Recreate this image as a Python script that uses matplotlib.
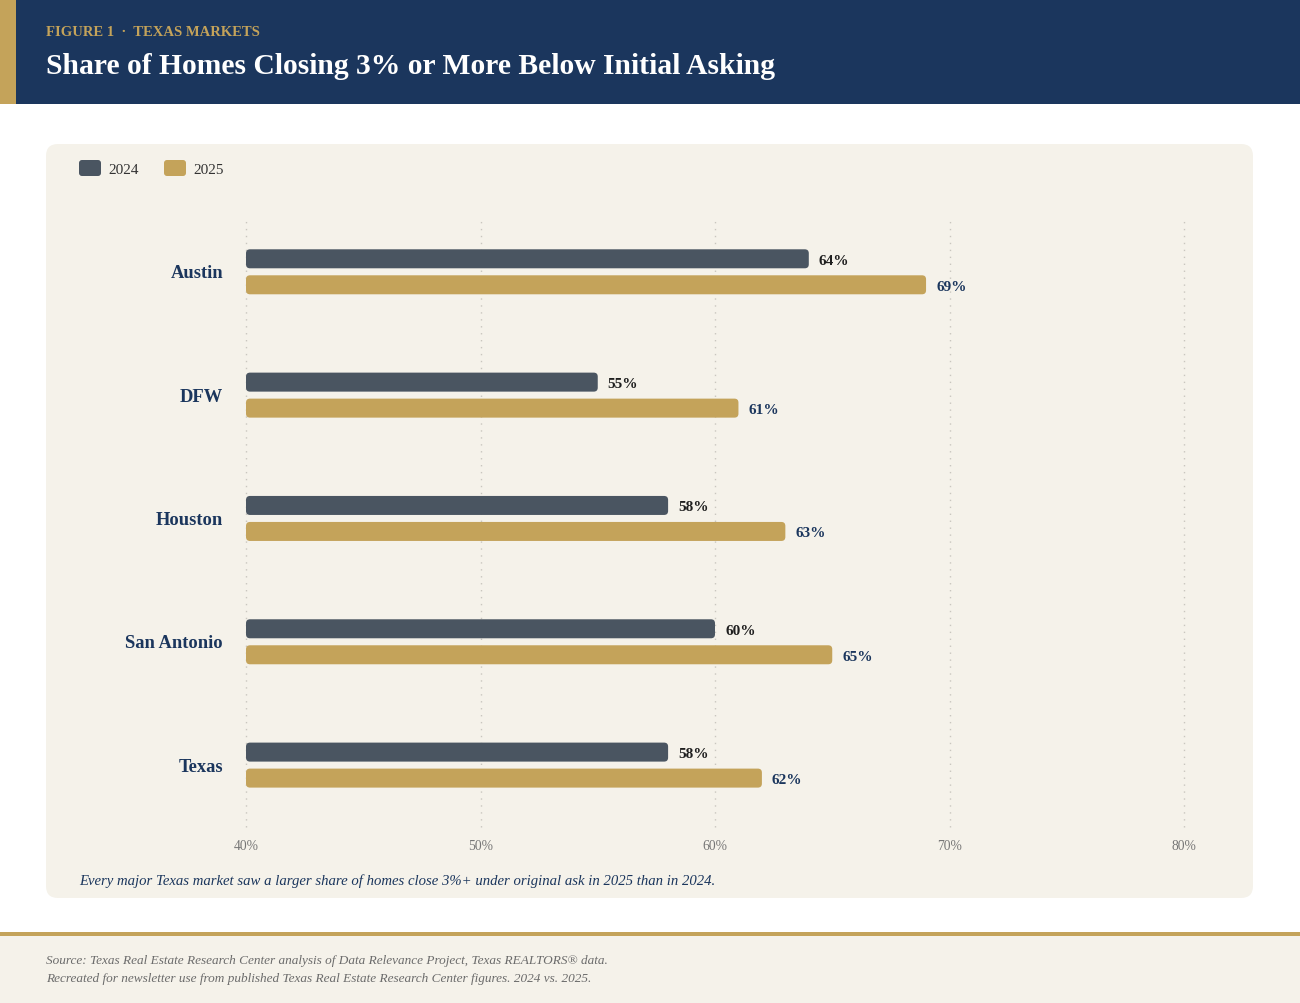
import matplotlib
matplotlib.use("Agg")
import matplotlib.pyplot as plt
from matplotlib.patches import Rectangle, FancyBboxPatch

plt.rcParams['font.family'] = ['Liberation Serif', 'DejaVu Serif']

# ---- data ----
markets = ["Austin", "DFW", "Houston", "San Antonio", "Texas"]
vals_2024 = [64, 55, 58, 60, 58]
vals_2025 = [69, 61, 63, 65, 62]
series_names = ["2024", "2025"]
x_ticks = [40, 50, 60, 70, 80]
tick_labels = ["40%", "50%", "60%", "70%", "80%"]

NAVY = "#1b365d"
GOLD = "#c4a35a"
SLATE = "#4a5561"
CARD = "#f5f2ea"

W, H = 1300, 1004
fig = plt.figure(figsize=(W / 100, H / 100), dpi=100)
fig.patch.set_facecolor("white")

# background axes in pixel coordinates
bg = fig.add_axes([0, 0, 1, 1])
bg.set_xlim(0, W)
bg.set_ylim(H, 0)
bg.axis("off")

# header band
bg.add_patch(Rectangle((0, 0), W, 105, facecolor=NAVY, edgecolor="none"))
bg.add_patch(Rectangle((0, 0), 16, 105, facecolor=GOLD, edgecolor="none"))
bg.text(46, 32, "FIGURE 1  ·  TEXAS MARKETS", color=GOLD, fontsize=10.5,
        fontweight="bold", va="center", ha="left")
bg.text(46, 66, "Share of Homes Closing 3% or More Below Initial Asking", color="white",
        fontsize=21.3, fontweight="bold", va="center", ha="left")

# card
bg.add_patch(FancyBboxPatch((46, 145), 1207, 754, boxstyle="round,pad=0,rounding_size=12",
                            facecolor=CARD, edgecolor="none"))

# legend
leg_items = [(79, SLATE, series_names[0]), (164, GOLD, series_names[1])]
for x0, c, lab in leg_items:
    bg.add_patch(FancyBboxPatch((x0, 161), 22, 16, boxstyle="round,pad=0,rounding_size=3",
                                facecolor=c, edgecolor="none"))
    bg.text(x0 + 29, 170, lab, fontsize=11, color="#333333", va="center", ha="left")

# caption
bg.text(79, 881, "Every major Texas market saw a larger share of homes close 3%+ under original ask in 2025 than in 2024.",
        fontsize=10.6, style="italic", color=NAVY, va="center", ha="left")

# footer
bg.add_patch(Rectangle((0, 933), W, 4, facecolor=GOLD, edgecolor="none"))
bg.add_patch(Rectangle((0, 937), W, H - 937, facecolor=CARD, edgecolor="none"))
bg.text(46, 961, "Source: Texas Real Estate Research Center analysis of Data Relevance Project, Texas REALTORS® data.",
        fontsize=9.5, style="italic", color="#6b6b6b", va="center", ha="left")
bg.text(46, 979, "Recreated for newsletter use from published Texas Real Estate Research Center figures. 2024 vs. 2025.",
        fontsize=9.5, style="italic", color="#6b6b6b", va="center", ha="left")

# chart axes
ax_l, ax_r, ax_t, ax_b = 246, 1184, 220, 828
ax = fig.add_axes([ax_l / W, 1 - ax_b / H, (ax_r - ax_l) / W, (ax_b - ax_t) / H])
ax.set_facecolor("none")
xmin, xmax = 40, 80
ax.set_xlim(xmin, xmax)
n = len(markets)
ax.set_ylim(n - 1 + 0.51, -0.42)

px_per_x = (ax_r - ax_l) / (xmax - xmin)
px_per_y = (ax_b - ax_t) / (n - 1 + 0.51 + 0.42)
bar_h = 19 / px_per_y
off = 13 / px_per_y
rad_x = 4 / px_per_x
aspect = px_per_x / px_per_y

for xt in x_ticks:
    ax.axvline(xt, color="#c9c6bf", linestyle=(0, (1, 4)), linewidth=1, zorder=0, clip_on=False)

for i, m in enumerate(markets):
    for v, dy, c, tc in [(vals_2024[i], -off, SLATE, "#1f1f1f"), (vals_2025[i], off, GOLD, NAVY)]:
        p = FancyBboxPatch((xmin, i + dy + 1 / px_per_y - bar_h / 2), v - xmin, bar_h,
                           boxstyle=f"round,pad=0,rounding_size={rad_x}",
                           mutation_aspect=aspect, facecolor=c, edgecolor="none", zorder=2)
        ax.add_patch(p)
        ax.text(v + 10 / px_per_x, i + dy + 1 / px_per_y, f"{v}%", fontsize=11, fontweight="bold",
                color=tc, va="center_baseline", ha="left")

ax.set_yticks(range(n))
ax.set_yticklabels(markets, fontsize=13.3, fontweight="bold", color=NAVY)
ax.set_xticks(x_ticks)
ax.set_xticklabels(tick_labels, fontsize=9.8, color="#777777")
ax.tick_params(axis="y", length=0, pad=16.6)
ax.tick_params(axis="x", length=0, pad=8.5)
for s in ax.spines.values():
    s.set_visible(False)

fig.savefig("out.png", dpi=100, facecolor="white")
